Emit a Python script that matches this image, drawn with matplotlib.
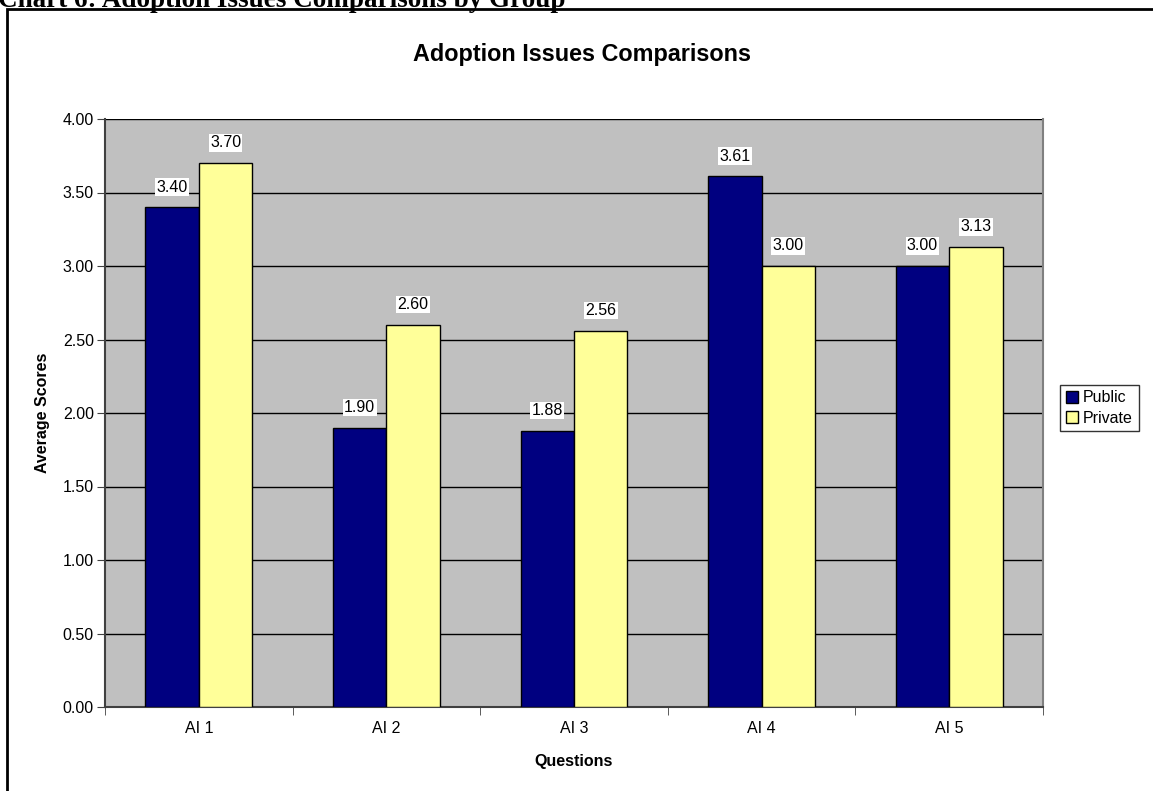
import matplotlib

matplotlib.use('Agg')
import matplotlib.pyplot as plt
import numpy as np
from matplotlib.patches import Rectangle

# ── Data ──────────────────────────────────────────────────────────────────────
questions = ['AI 1', 'AI 2', 'AI 3', 'AI 4', 'AI 5']
public = [3.40, 1.90, 1.88, 3.61, 3.00]
private = [3.70, 2.60, 2.56, 3.00, 3.13]
y_ticks = [0.0, 0.5, 1.0, 1.5, 2.0, 2.5, 3.0, 3.5, 4.0]

# ── Canvas ────────────────────────────────────────────────────────────────────
W, H = 1153, 791
fig = plt.figure(figsize=(W / 100, H / 100), dpi=100)
fig.patch.set_facecolor('white')

SANS = ['Liberation Sans', 'DejaVu Sans']
FS = 11.5

# document caption, clipped by the top of the page
fig.text(-2 / W, 1 - 7 / H, 'Chart 6: Adoption Issues Comparisons by Group',
         ha='left', va='baseline', fontsize=19.5, fontweight='bold',
         family=['Liberation Serif', 'DejaVu Serif'])

# chart frame (runs off the right and bottom edges)
fig.patches.append(Rectangle((7 / W, -0.05), 1.1, 1 - 9 / H + 0.05,
                             transform=fig.transFigure, fill=False,
                             edgecolor='black', linewidth=2, zorder=0))

ax = fig.add_axes([105 / W, (H - 707) / H, 938 / W, 588 / H])
ax.set_facecolor('#C0C0C0')

x = np.arange(len(questions))
bw = 0.285
b1 = ax.bar(x - bw / 2, public, bw, color='#000080', edgecolor='black',
            linewidth=1, label='Public', zorder=3)
b2 = ax.bar(x + bw / 2, private, bw, color='#FFFF99', edgecolor='black',
            linewidth=1, label='Private', zorder=3)

for bars, vals in ((b1, public), (b2, private)):
    for rect, v in zip(bars, vals):
        ax.annotate(f'{v:.2f}', (rect.get_x() + rect.get_width() / 2, v),
                    xytext=(0, 14.5), textcoords='offset points',
                    ha='center', va='center', fontsize=FS, family=SANS,
                    bbox=dict(boxstyle='square,pad=0.08', fc='white', ec='none'),
                    zorder=5)

ax.set_xlim(-0.5, len(questions) - 0.5)
ax.set_ylim(0, 4)
ax.set_yticks(y_ticks)
ax.set_yticklabels([f'{t:.2f}' for t in y_ticks], fontsize=FS, family=SANS)
ax.yaxis.grid(True, color='black', linewidth=1, zorder=1)
ax.set_axisbelow(True)

# category labels centred, tick marks on the boundaries
ax.set_xticks(x)
ax.set_xticklabels(questions, fontsize=FS, family=SANS)
ax.tick_params(axis='x', length=0, pad=10)
ax.set_xticks(np.arange(len(questions) + 1) - 0.5, minor=True)
ax.tick_params(axis='x', which='minor', length=6, direction='out', color='#404040')
ax.tick_params(axis='y', length=6, direction='out', color='#404040', pad=2)

for side in ('left', 'bottom'):
    ax.spines[side].set_color('#404040')
    ax.spines[side].set_linewidth(1.5)
ax.spines['top'].set_visible(False)
ax.spines['right'].set_color('#808080')
ax.spines['right'].set_linewidth(1.5)

ax.set_xlabel('Questions', fontsize=FS, fontweight='bold', family=SANS, labelpad=13)
ax.set_ylabel('Average Scores', fontsize=FS, fontweight='bold', family=SANS, labelpad=9)

fig.text(582 / W, 1 - 55 / H, 'Adoption Issues Comparisons', ha='center',
         va='center', fontsize=16.8, fontweight='bold', family=SANS)

leg = ax.legend(loc='center left', bbox_to_anchor=(1060 / W, 1 - 408 / H),
                bbox_transform=fig.transFigure, prop={'family': SANS, 'size': FS},
                frameon=True, fancybox=False, edgecolor='black', handlelength=0.8,
                handleheight=0.8, handletextpad=0.3, borderpad=0.35, labelspacing=0.35,
                borderaxespad=0)
leg.get_frame().set_linewidth(1)

fig.savefig('out.png', dpi=100, facecolor=fig.get_facecolor())
